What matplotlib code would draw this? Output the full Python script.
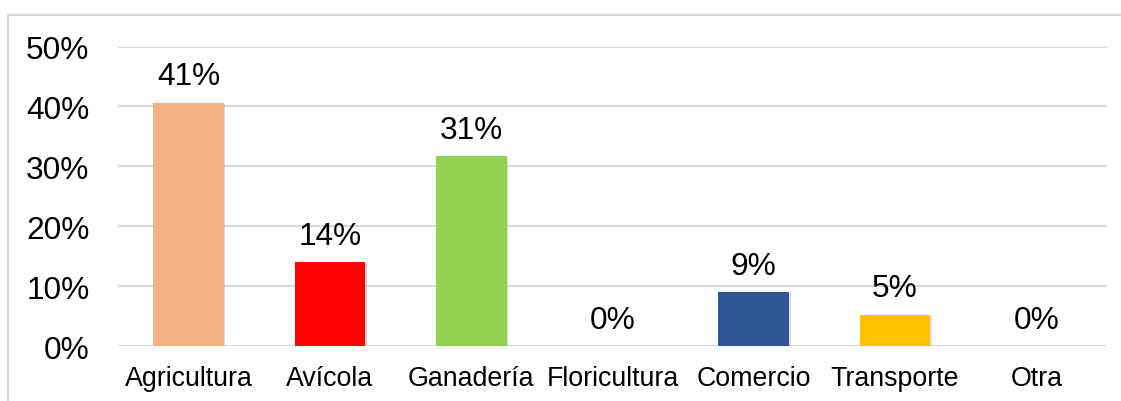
import matplotlib
matplotlib.use("Agg")
import matplotlib.pyplot as plt
from matplotlib.patches import Rectangle
from matplotlib import patheffects as pe

# datos del gráfico
categorias = ["Agricultura", "Avícola", "Ganadería", "Floricultura", "Comercio", "Transporte", "Otra"]
valores = [0.406, 0.140, 0.317, 0.0, 0.090, 0.052, 0.0]
etiquetas = ["41%", "14%", "31%", "0%", "9%", "5%", "0%"]
colores = ["#F4B183", "#FF0000", "#92D050", "#FFFFFF", "#2F5597", "#FFC000", "#FFFFFF"]
ticks_y = [0, 0.1, 0.2, 0.3, 0.4, 0.5]
ticks_y_txt = ["0%", "10%", "20%", "30%", "40%", "50%"]

plt.rcParams["font.family"] = ["Liberation Sans", "DejaVu Sans"]

fig = plt.figure(figsize=(11.21, 4.02), dpi=100)
ax = fig.add_axes([0.1053, 0.1368, 0.8822, 0.745])

x = range(len(categorias))
barras = ax.bar(x, valores, width=0.5, color=colores, zorder=3)
for b, v in zip(barras, valores):
    if v > 0:
        b.set_path_effects([pe.SimplePatchShadow(offset=(1, -1), shadow_rgbFace="#aaaaaa", alpha=0.4), pe.Normal()])

for i, (v, t) in enumerate(zip(valores, etiquetas)):
    ax.annotate(t, (i, v), xytext=(0, 13.3), textcoords="offset points",
                ha="center", va="baseline", fontsize=22.8, color="#000000")

ax.set_xlim(-0.5, len(categorias) - 0.5)
ax.set_ylim(0, 0.5)
ax.set_yticks(ticks_y)
ax.set_yticklabels(ticks_y_txt, fontsize=22.8)
ax.set_xticks(list(x))
ax.set_xticklabels(categorias, fontsize=19.3)
ax.tick_params(axis="y", length=0, pad=20.5)
ax.tick_params(axis="x", length=0, pad=13.5)
ax.grid(axis="y", color="#D9D9D9", linewidth=1.5, zorder=0)
for s in ax.spines.values():
    s.set_visible(False)

# marco del gráfico
fig.patches.append(Rectangle((8 / 1121, -0.1), 1.2, 1 - 16 / 402 + 0.1,
                             transform=fig.transFigure, fill=False,
                             edgecolor="#D9D9D9", linewidth=1.5))

fig.savefig("out.png", dpi=100)
